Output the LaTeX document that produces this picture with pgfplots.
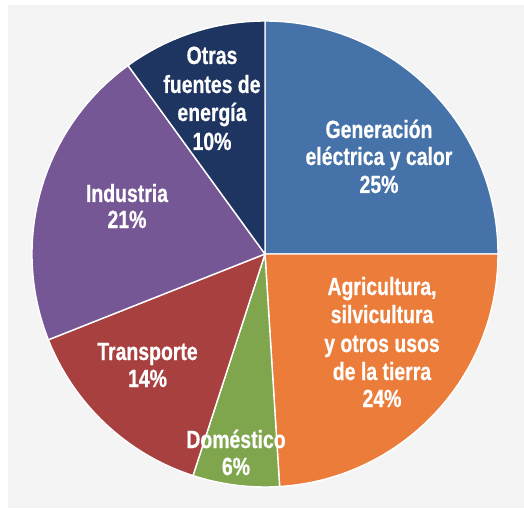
\documentclass[border=0pt]{standalone}
\usepackage{pgfplots}
\usepackage{pgfplotstable}
\pgfplotsset{compat=1.18}
\usepackage{fontspec}
\newfontfamily\lblfont{Liberation Sans}[FakeStretch=0.78, BoldFeatures={FakeBold=0.6}]

\definecolor{cGen}{HTML}{4572A8}
\definecolor{cAgr}{HTML}{EC7C3A}
\definecolor{cDom}{HTML}{7FA64C}
\definecolor{cTra}{HTML}{A84040}
\definecolor{cInd}{HTML}{765796}
\definecolor{cOtr}{HTML}{1F3561}
\definecolor{bgGray}{HTML}{F4F4F4}

% share of emissions by sector, clockwise from twelve o'clock
\pgfplotstableread{
sector       pct  col
Generacion   25   cGen
Agricultura  24   cAgr
Domestico    6    cDom
Transporte   14   cTra
Industria    21   cInd
Otras        10   cOtr
}\sectors

\newcommand\lab[3]{\node[anchor=base,inner sep=0pt,text=white,font=\lblfont\bfseries\fontsize{25}{28}\selectfont] at (#1bp,#2bp) {#3};}

\begin{document}
\begin{tikzpicture}
\fill[white] (-265bp,-256bp) rectangle (259bp,254bp);
\fill[bgGray] (-257bp,-254bp) rectangle (259bp,249bp);
\begin{axis}[
  hide axis, scale only axis, clip=false,
  width=466bp, height=466bp,
  xmin=-1, xmax=1, ymin=-1, ymax=1,
  at={(0,0)}, anchor=center,
]
\xdef\pieStart{90}
\pgfplotsforeachungrouped \i in {0,...,5}{
  \pgfplotstablegetelem{\i}{pct}\of\sectors \let\piePct\pgfplotsretval
  \pgfplotstablegetelem{\i}{col}\of\sectors \let\pieCol\pgfplotsretval
  \pgfmathsetmacro\pieEnd{\pieStart-3.6*\piePct}
  \edef\pieCmd{\noexpand\fill[\pieCol, draw=white, line width=1.4bp, line join=round]
    (axis cs:0,0) -- (axis cs:{cos(\pieStart)},{sin(\pieStart)})
    arc[start angle=\pieStart, end angle=\pieEnd, radius=233bp] -- cycle;}
  \pieCmd
  \xdef\pieStart{\pieEnd}
}
\end{axis}
% sector labels
\lab{-53}{190}{Otras}
\lab{-53}{161}{fuentes de}
\lab{-53}{133}{energía}
\lab{-53}{104}{10\%}
\lab{114}{116}{Generación}
\lab{114}{89}{eléctrica y calor}
\lab{114}{61}{25\%}
\lab{117}{-41}{Agricultura,}
\lab{117}{-69}{silvicultura}
\lab{117}{-98}{y otros usos}
\lab{117}{-126}{de la tierra}
\lab{117}{-153}{24\%}
\lab{-138}{52}{Industria}
\lab{-138}{26}{21\%}
\lab{-117.5}{-106}{Transporte}
\lab{-117.5}{-133}{14\%}
\lab{-29}{-194}{Doméstico}
\lab{-29}{-221}{6\%}
\end{tikzpicture}
\end{document}
